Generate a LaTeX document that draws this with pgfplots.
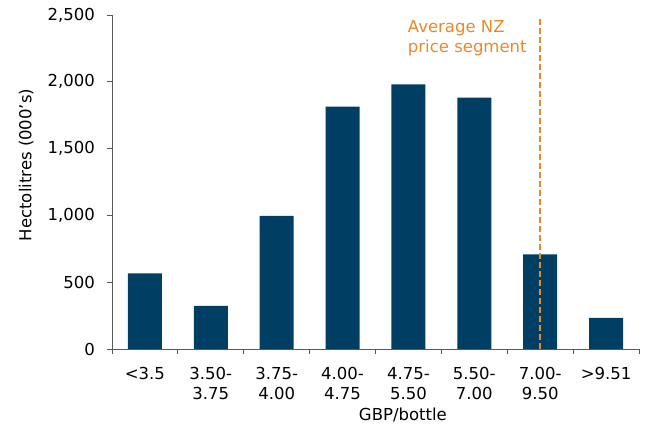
\documentclass[border=0pt]{standalone}
\usepackage{fontspec}
\setmainfont{DejaVu Sans}
\usepackage{pgfplots}
\pgfplotsset{compat=1.18}
\definecolor{barblue}{HTML}{003F63}
\definecolor{nzorange}{HTML}{E8892B}
\definecolor{axisgray}{HTML}{595959}

\begin{document}
\fontsize{16.5}{20}\selectfont
\begin{tikzpicture}
  % fix the page to the reference's margins round the axis box
  \path[use as bounding box] (-112pt,-78pt) rectangle (534pt,349pt);
  \begin{axis}[
      scale only axis,
      width=527pt, height=334pt,
      at={(0,0)}, anchor=south west,
      axis x line=bottom, axis y line=left,
      axis line style={axisgray, line width=0.8pt, -},
      xmin=-0.5, xmax=7.5,
      ymin=0, ymax=2500,
      xtick={0,...,7},
      xticklabels={{<3.5},{3.50-\\3.75},{3.75-\\4.00},{4.00-\\4.75},{4.75-\\5.50},{5.50-\\7.00},{7.00-\\9.50},{>9.51}},
      major x tick style={draw=none},
      minor xtick={-0.5,0.5,...,7.5},
      minor x tick style={axisgray, line width=0.8pt},
      minor tick length=5pt,
      xtick pos=bottom,
      x tick label style={align=center, inner sep=0pt, yshift=-13pt, font=\fontsize{16.5}{20}\selectfont},
      ytick={0,500,...,2500},
      ytick pos=left,
      y tick style={axisgray, line width=0.8pt},
      tick align=outside,
      major tick length=5pt,
      y tick label style={inner xsep=0pt, xshift=-12pt},
      /pgf/number format/.cd, 1000 sep={,}, assume math mode=true,
      /pgfplots/.cd,
      xlabel={GBP/bottle},
      xlabel style={at={(axis description cs:0.552,-0.198)}, anchor=center},
      ylabel={Hectolitres (000's)},
      ylabel style={at={(axis description cs:-0.163,0.551)}, anchor=center},
      clip=false,
    ]
    \addplot[ybar, bar width=34pt, fill=barblue, draw=none] coordinates {
      (0,566) (1,322) (2,997) (3,1814) (4,1981) (5,1881) (6,709) (7,232)
    };
    \addplot[nzorange, line width=1.5pt, dash pattern=on 6pt off 3pt] coordinates {
      (6,0) (6,2485)
    };
    \node[nzorange, anchor=north west, align=left, inner sep=0pt]
      at (axis cs:3.99,2460) {Average NZ\\price segment};
  \end{axis}
\end{tikzpicture}
\end{document}
